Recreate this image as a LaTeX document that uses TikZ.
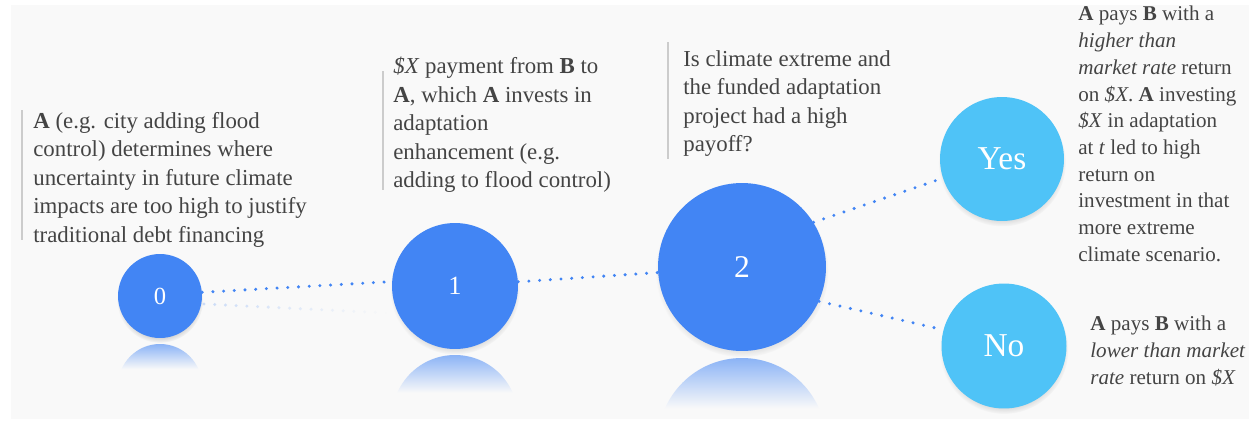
\documentclass[tikz,border=0pt]{standalone}
\usepackage{fontspec}
\setmainfont{Liberation Serif}
\usetikzlibrary{shadows, fadings}
\usepackage{xcolor}

\definecolor{nodeblue}{HTML}{4285F4}
\definecolor{leafblue}{HTML}{4FC3F7}
\definecolor{txtgray}{HTML}{444444}
\definecolor{bargray}{HTML}{CCCCCC}
\definecolor{panel}{HTML}{F9F9F9}

\begin{document}
\begin{tikzpicture}[
        x=0.02cm, y=-0.02cm,
        stage/.style={circle, fill=nodeblue, text=white, inner sep=0pt, minimum size=#1,
            circular drop shadow={shadow xshift=0pt, shadow yshift=-2pt, shadow scale=1.03, opacity=0.35}},
        leaf/.style={stage=#1, fill=leafblue},
        note/.style={anchor=north west, align=left, inner sep=0pt, text=txtgray,
            font=\fontsize{13}{16.2}\selectfont},
        smallnote/.style={note, font=\fontsize{12}{15.2}\selectfont},
        bar/.style={draw=bargray, line width=1.2pt},
        link/.style={draw=nodeblue, line width=1.9pt, line cap=round, dash pattern=on 0pt off 6.1pt}
    ]
        % Background
        \useasboundingbox (0,0) rectangle (1260,423);
        \fill[white] (0,0) rectangle (1260,423);
        \fill[panel] (11,5) rectangle (1249,419);

        % Reflections under the stages
        \foreach \cx/\cy/\r/\gap in {160/296/42/6, 455/286/63/6, 742/267/84/7} {
            \begin{scope}
                \clip (\cx,\cy+\r+\gap+\r) circle (\r*0.02cm);
                \shade[top color=nodeblue!60!panel, bottom color=panel]
                    (\cx-\r,\cy+\r+\gap) rectangle (\cx+\r,\cy+\r+\gap+0.6*\r);
            \end{scope}
        }

        % Faint reflection of the first link
        \coordinate (r0) at (204,304);
        \coordinate (r1) at (388,313);
        \draw[link, opacity=0.25, path fading=east] (r0) -- (r1);

        % Stages
        \node[stage=1.68cm, font=\fontsize{14}{14}\selectfont] (s0) at (160,296) {0};
        \node[stage=2.52cm, font=\fontsize{15}{15}\selectfont] (s1) at (455,286) {1};
        \node[stage=3.36cm, font=\fontsize{18}{18}\selectfont] (s2) at (742,267) {2};
        \node[leaf=2.48cm, font=\fontsize{19}{19}\selectfont] (yes) at (1002,159) {Yes};
        \node[leaf=2.5cm, font=\fontsize{19}{19}\selectfont] (no) at (1004,346) {No};

        % Links
        \draw[link] (s0.5) -- (s1.176);
        \draw[link] (s1) -- (s2);
        \draw[link] (s2.32) -- (yes.198);
        \draw[link] (s2.336) -- (no.165);

        % Notes
        \draw[bar] (22,110) -- (22,240);
        \node[note] (n0) at (33,112) {\textbf{A} (e.g. city adding flood\\control) determines where\\uncertainty in future climate\\impacts are too high to justify\\traditional debt financing};

        \draw[bar] (383,71) -- (383,190);
        \node[note] (n1) at (393,57) {\textit{\$X} payment from \textbf{B} to\\\textbf{A}, which \textbf{A} invests in\\adaptation\\enhancement (e.g.\\adding to flood control)};

        \draw[bar] (668,42) -- (668,159);
        \node[note] (n2) at (683,50) {Is climate extreme and\\the funded adaptation\\project had a high\\payoff?};

        \node[smallnote] (nyes) at (1078,6) {\textbf{A} pays \textbf{B} with a\\\textit{higher than}\\\textit{market rate} return\\on \textit{\$X}. \textbf{A} investing\\\textit{\$X} in adaptation\\at \textit{t} led to high\\return on\\investment in that\\more extreme\\climate scenario.};

        \node[smallnote] (nno) at (1090,316) {\textbf{A} pays \textbf{B} with a\\\textit{lower than market}\\\textit{rate} return on \textit{\$X}};
    \end{tikzpicture}
\end{document}
